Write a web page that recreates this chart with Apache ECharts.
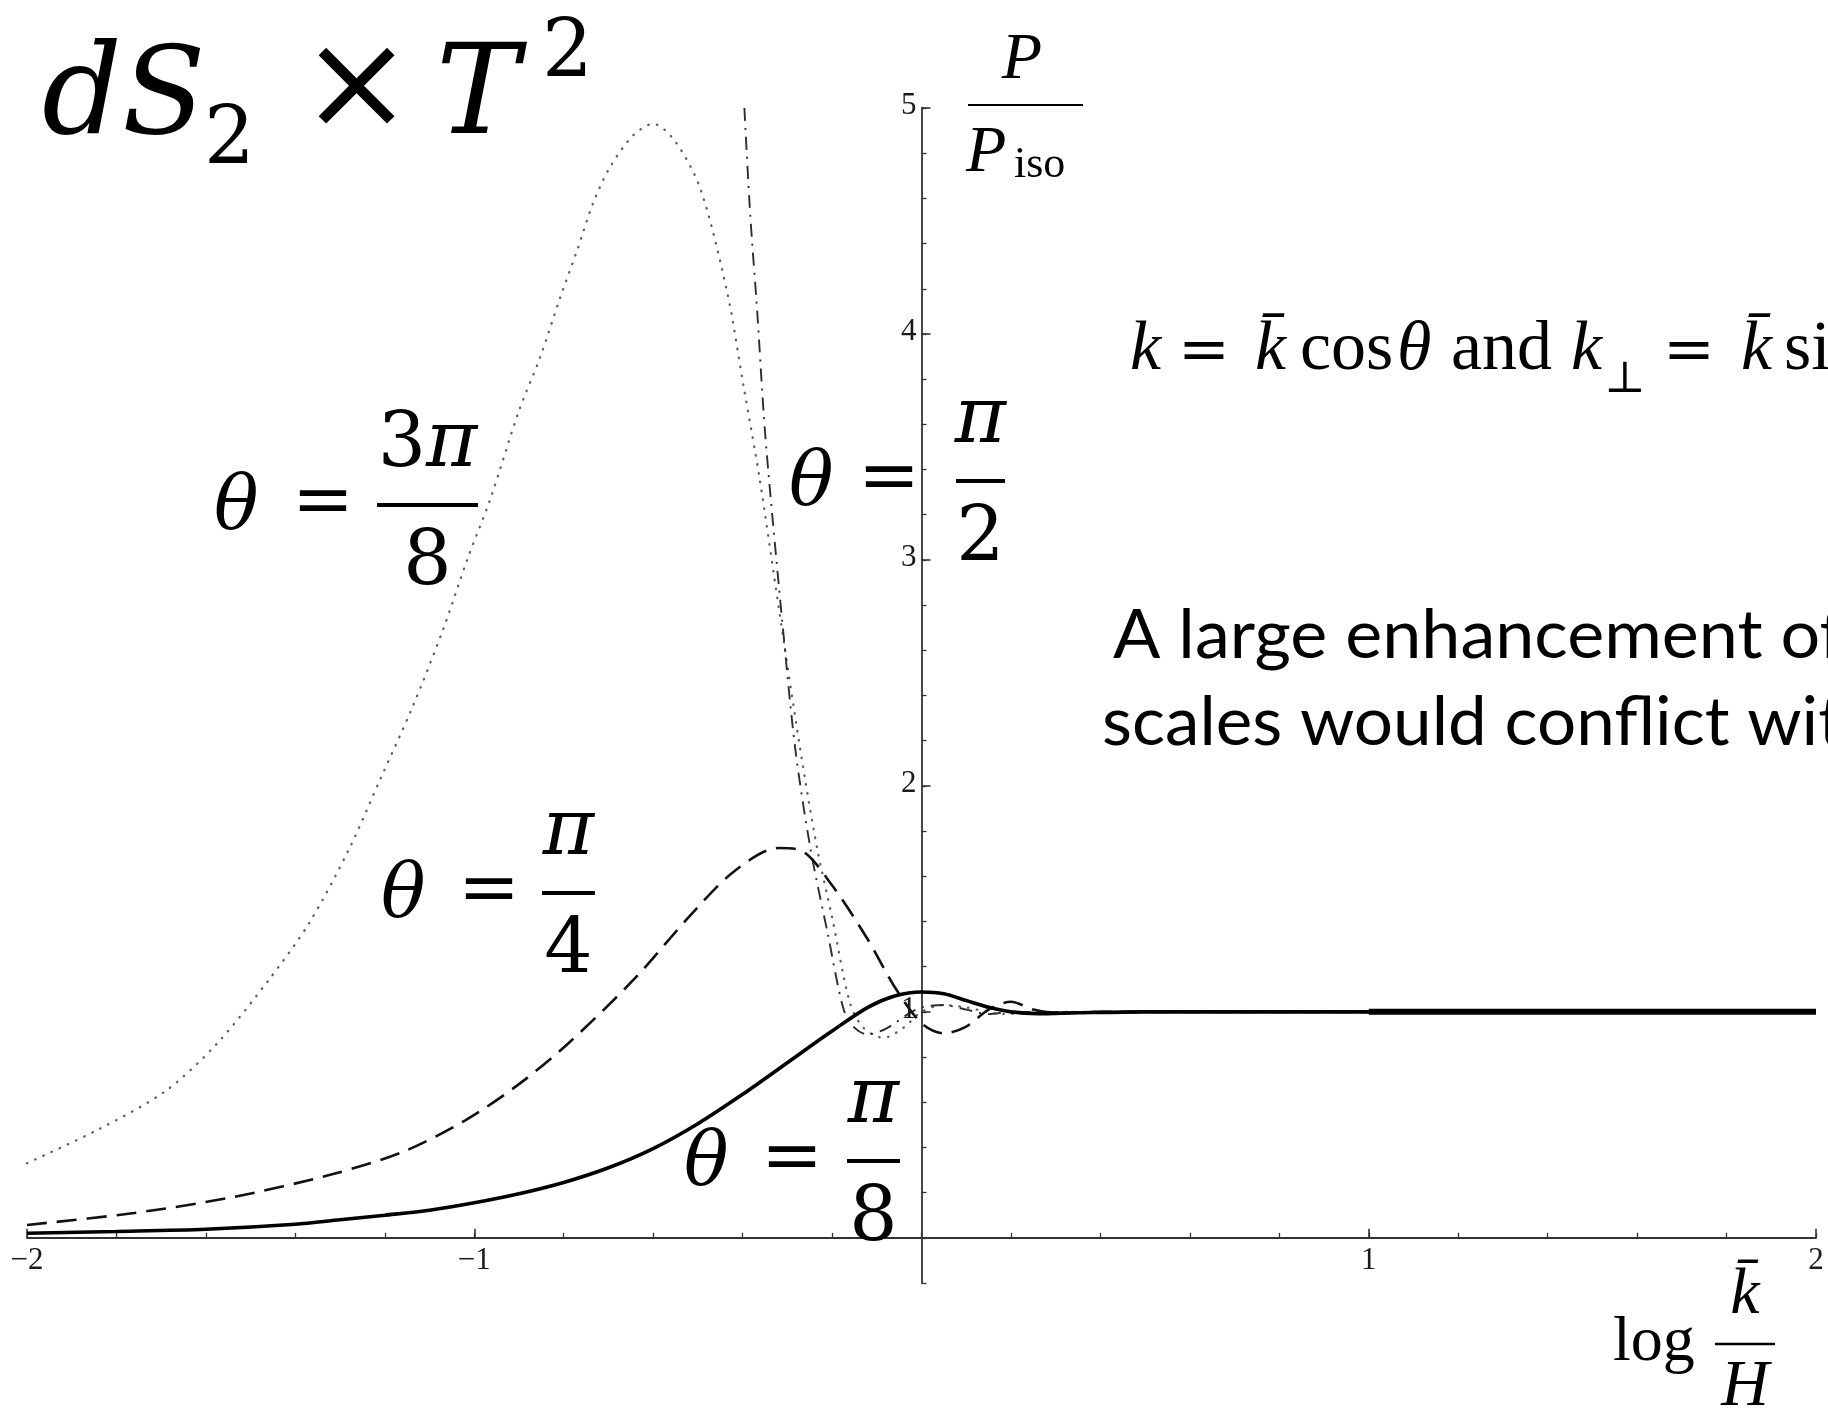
<!DOCTYPE html>
<html>
<head>
<meta charset="utf-8">
<script src="https://cdn.jsdelivr.net/npm/echarts@6/dist/echarts.min.js"></script>
<style>
  html, body { margin: 0; padding: 0; background: #ffffff; }
  #chart { width: 1828px; height: 1415px; }
</style>
</head>
<body>
<div id="chart"></div>
<script>
// Ratio of the anisotropic power spectrum to the isotropic one, P / P_iso,
// plotted against log(k̄/H) for four orientations θ on dS2 × T2.

const xTickLabels = [-2, -1, 1, 2];
const yTickLabels = [1, 2, 3, 4, 5];

// θ = π/8 (thick solid)
const thetaPi8 = [
  [-2.0, 0.020], [-1.8, 0.028], [-1.6, 0.038], [-1.4, 0.060], [-1.3, 0.080],
  [-1.2, 0.100], [-1.1, 0.122], [-1.0, 0.155], [-0.9, 0.195], [-0.8, 0.245],
  [-0.7, 0.310], [-0.6, 0.395], [-0.5, 0.505], [-0.4, 0.635], [-0.3, 0.775],
  [-0.2, 0.915], [-0.12, 1.020], [-0.06, 1.070], [0.0, 1.088], [0.05, 1.080],
  [0.10, 1.050], [0.15, 1.020], [0.20, 1.000], [0.26, 0.992], [0.35, 0.996],
  [0.5, 1.0], [1.0, 1.0], [1.5, 1.0], [2.0, 1.0]
];

// θ = π/4 (dashed)
const thetaPi4 = [
  [-2.0, 0.057], [-1.76, 0.110], [-1.54, 0.180], [-1.32, 0.280], [-1.16, 0.380],
  [-1.02, 0.520], [-0.90, 0.680], [-0.79, 0.860], [-0.64, 1.150], [-0.52, 1.420],
  [-0.42, 1.620], [-0.32, 1.725], [-0.27, 1.715], [-0.20, 1.560], [-0.12, 1.320],
  [-0.06, 1.110], [0.0, 0.950], [0.05, 0.905], [0.10, 0.935], [0.15, 1.010],
  [0.20, 1.045], [0.25, 1.010], [0.30, 0.995], [0.4, 1.0], [1.0, 1.0], [2.0, 1.0]
];

// θ = 3π/8 (dotted)
const theta3Pi8 = [
  [-2.0, 0.330], [-1.84, 0.480], [-1.69, 0.650], [-1.575, 0.860], [-1.46, 1.140],
  [-1.37, 1.390], [-1.28, 1.720], [-1.21, 2.030], [-1.14, 2.340], [-1.07, 2.690],
  [-1.016, 3.000], [-0.964, 3.270], [-0.90, 3.660], [-0.852, 3.900], [-0.808, 4.160],
  [-0.77, 4.370], [-0.734, 4.580], [-0.696, 4.740], [-0.644, 4.880], [-0.60, 4.930],
  [-0.55, 4.850], [-0.494, 4.640], [-0.434, 4.180], [-0.398, 3.770], [-0.362, 3.360],
  [-0.32, 2.800], [-0.271, 2.160], [-0.233, 1.720], [-0.20, 1.420], [-0.16, 1.040],
  [-0.13, 0.930], [-0.085, 0.885], [-0.04, 0.930], [0.0, 1.000], [0.05, 1.030],
  [0.10, 1.020], [0.18, 0.990], [0.3, 1.0], [1.0, 1.0], [2.0, 1.0]
];

// θ = π/2 (dash-dot)
const thetaPi2 = [
  [-0.396, 5.000], [-0.383, 4.530], [-0.367, 4.090], [-0.353, 3.650], [-0.342, 3.380],
  [-0.31, 2.700], [-0.282, 2.160], [-0.248, 1.720], [-0.21, 1.350], [-0.174, 1.010],
  [-0.15, 0.930], [-0.121, 0.900], [-0.08, 0.925], [-0.03, 0.990], [0.0, 1.020],
  [0.05, 1.030], [0.10, 1.010], [0.15, 0.990], [0.2, 1.0], [1.0, 1.0], [2.0, 1.0]
];

const MATH = '"DejaVu Serif"';
const TIMES = '"Liberation Serif"';
const SANS = 'Lato';

const W = 1828, H = 1415;
const grid = { left: 27, right: 12, top: 108, bottom: 132 };
const xRange = [-2, 2];
const yRange = [-0.2, 5];

// The axes cross at the origin; shift each axis there.
const gridW = W - grid.left - grid.right;
const gridH = H - grid.top - grid.bottom;
const yAxisShift = -gridW * (0 - xRange[0]) / (xRange[1] - xRange[0]);
const xAxisShift = -gridH * (0 - yRange[0]) / (yRange[1] - yRange[0]);

const chart = echarts.init(document.getElementById('chart'), null, { renderer: 'canvas' });

// ---- text layout helpers -------------------------------------------------
const mctx = document.createElement('canvas').getContext('2d');
function fontOf(p) {
  return (p.italic ? 'italic ' : '') + p.size + 'px ' + (p.family || MATH);
}
function widthOf(p) {
  mctx.font = fontOf(p);
  return mctx.measureText(p.t).width;
}
// Lays out a run of glyph groups on a common baseline.
function mathRun(parts, x, baseline, align) {
  let total = 0;
  parts.forEach(p => { total += widthOf(p) + (p.gap || 0); });
  let cx = align === 'center' ? x - total / 2 : x;
  return parts.map(p => {
    const el = {
      type: 'text', z: 50,
      x: cx,
      y: baseline + (p.dy || 0) - 0.3 * p.size,
      style: {
        text: p.t, font: fontOf(p), fill: '#000',
        textAlign: 'left', textVerticalAlign: 'middle',
        align: 'left', verticalAlign: 'middle'
      }
    };
    cx += widthOf(p) + (p.gap || 0);
    return el;
  });
}
function glyph(t, x, baseline, size, italic, family, align) {
  return mathRun([{ t, size, italic, family }], x, baseline, align || 'left')[0];
}
function rule(x1, x2, y, w) {
  return { type: 'line', z: 50, shape: { x1, y1: y, x2, y2: y }, style: { stroke: '#000', lineWidth: w } };
}
// θ = num/den label, fraction bar at lineY
function thetaLabel(thetaX, eqX, barX1, barX2, lineY, num, den) {
  const cx = (barX1 + barX2) / 2;
  const els = [];
  els.push(glyph('θ', thetaX, lineY + 26, 74, true));
  els.push({
    type: 'text', z: 50, x: eqX, y: lineY,
    style: { text: '=', font: '74px ' + MATH, fill: '#000', textAlign: 'left', textVerticalAlign: 'middle', align: 'left', verticalAlign: 'middle' }
  });
  els.push(rule(barX1, barX2, lineY, 4));
  els.push(...mathRun(num, cx, lineY - 36, 'center'));
  els.push(...mathRun(den, cx, lineY + 82, 'center'));
  return els;
}

const graphics = [];

// Title: dS2 × T^2
graphics.push(glyph('d', 42, 138, 125, true));
graphics.push(glyph('S', 122, 138, 122, true));
graphics.push(glyph('2', 204, 166, 80, false));
graphics.push({
  type: 'text', z: 50, x: 300, y: 93,
  style: { text: '×', font: '135px ' + MATH, fill: '#000', textAlign: 'left', textVerticalAlign: 'middle', align: 'left', verticalAlign: 'middle' }
});
graphics.push(glyph('T', 436, 138, 125, true));
graphics.push(glyph('2', 542, 79, 80, false));

// Curve labels
graphics.push(...thetaLabel(214, 292, 377, 478, 505,
  [{ t: '3', size: 76 }, { t: 'π', size: 78, italic: true }], [{ t: '8', size: 76 }]));
graphics.push(...thetaLabel(789, 858, 956, 1005, 481,
  [{ t: 'π', size: 78, italic: true }], [{ t: '2', size: 76 }]));
graphics.push(...thetaLabel(381, 458, 542, 595, 893,
  [{ t: 'π', size: 78, italic: true }], [{ t: '4', size: 76 }]));
graphics.push(...thetaLabel(684, 761, 847, 900, 1161,
  [{ t: 'π', size: 78, italic: true }], [{ t: '8', size: 76 }]));

// Vertical axis name: P / P_iso
graphics.push(glyph('P', 1022, 80, 66, true, TIMES, 'center'));
graphics.push(rule(968, 1083, 105, 2));
graphics.push(glyph('P', 966, 173, 66, true, TIMES));
graphics.push(glyph('iso', 1014, 179, 44, false, TIMES));

// Horizontal axis name: log k̄/H
graphics.push(glyph('log', 1613, 1362, 64, false, TIMES));
graphics.push(glyph('k\u0304', 1745, 1315, 66, true, TIMES, 'center'));
graphics.push(rule(1715, 1775, 1344, 2.5));
graphics.push(glyph('H', 1745, 1407, 66, true, TIMES, 'center'));

// Definition of the wave-vector components
const fs = 70;
graphics.push(glyph('k', 1130, 372, fs, true, TIMES));
graphics.push(glyph('=', 1178, 372, 62, false, MATH));
graphics.push(glyph('k\u0304', 1255, 372, fs, true, TIMES));
graphics.push(glyph('cos', 1300, 372, fs, false, TIMES));
graphics.push(glyph('θ', 1397, 372, fs, true, TIMES));
graphics.push(glyph('and', 1451, 372, fs, false, TIMES));
graphics.push(glyph('k', 1571, 372, fs, true, TIMES));
graphics.push(glyph('⊥', 1604, 394, 44, false, MATH));
graphics.push(glyph('=', 1663, 372, 62, false, MATH));
graphics.push(glyph('k\u0304', 1741, 372, fs, true, TIMES));
graphics.push(glyph('si', 1784, 372, fs, false, TIMES));

// Sentence lines (narrowed to the slide's font width)
function sentence(t, x, baseline, targetW) {
  const p = { t, size: 68, family: SANS };
  const el = glyph(t, 0, 0, 68, false, SANS);
  el.x = x; el.y = baseline - 0.3 * 68;
  el.scaleX = targetW / widthOf(p);
  return el;
}
graphics.push(sentence('A large enhancement of', 1113, 656, 731));
graphics.push(sentence('scales would conflict wit', 1102, 743, 741));

// ---- chart -----------------------------------------------------------------
const axisColor = '#333333';
const tickFont = '31px ' + TIMES;
const tickColor = '#1a1a1a';
const fmtTick = v => (v < 0 ? '\u2212' + Math.abs(v) : String(v));

function curve(name, data, lineStyle, z) {
  return {
    name, type: 'line', xAxisIndex: 0, yAxisIndex: 0, data, z,
    showSymbol: false, symbol: 'none', smooth: 0.3,
    clip: true, silent: true, lineStyle
  };
}

const option = {
  animation: false,
  backgroundColor: '#ffffff',
  grid: Object.assign({ containLabel: false, outerBoundsMode: 'none' }, grid),
  xAxis: [
    {
      type: 'value', min: xRange[0], max: xRange[1], position: 'bottom', offset: xAxisShift,
      axisLine: { onZero: false, lineStyle: { color: axisColor, width: 1.8 } },
      axisTick: { show: true, inside: true, length: 9, customValues: xTickLabels, lineStyle: { color: axisColor, width: 1.6 } },
      axisLabel: { show: false },
      splitLine: { show: false }
    },
    {
      type: 'value', min: xRange[0], max: xRange[1], interval: 0.2, position: 'bottom', offset: xAxisShift,
      axisLine: { onZero: false, show: false },
      axisTick: { show: true, inside: true, length: 5, lineStyle: { color: axisColor, width: 1.3 } },
      axisLabel: { show: false },
      splitLine: { show: false }
    }
  ],
  yAxis: [
    {
      type: 'value', min: yRange[0], max: yRange[1], position: 'left', offset: yAxisShift,
      axisLine: { onZero: false, lineStyle: { color: axisColor, width: 1.8 } },
      axisTick: { show: true, inside: true, length: 9, customValues: yTickLabels, lineStyle: { color: axisColor, width: 1.6 } },
      axisLabel: { show: false },
      splitLine: { show: false }
    },
    {
      type: 'value', min: yRange[0], max: yRange[1], interval: 0.2, position: 'left', offset: yAxisShift,
      axisLine: { onZero: false, show: false },
      axisTick: { show: true, inside: true, length: 5, lineStyle: { color: axisColor, width: 1.3 } },
      axisLabel: { show: false },
      splitLine: { show: false }
    }
  ],
  series: [
    curve('θ = 3π/8', theta3Pi8, { color: '#5e5e5e', width: 2.3, type: [0.5, 8.5], cap: 'round' }, 3),
    curve('θ = π/2', thetaPi2, { color: '#2e2e2e', width: 1.9, type: [13, 7, 2, 7] }, 4),
    curve('θ = π/4', thetaPi4, { color: '#111111', width: 2.6, type: [20, 10] }, 5),
    curve('θ = π/8', thetaPi8, { color: '#000000', width: 3.6 }, 6),
    curve('θ = π/8 ', thetaPi8.filter(p => p[0] >= 1), { color: '#000000', width: 6 }, 7)
  ],
  graphic: { elements: graphics }
};

chart.setOption(option);

// Tick labels, placed through the axes' own scales at the crossing point.
const finder = { xAxisIndex: 0, yAxisIndex: 0 };
const tickLabels = [];
xTickLabels.forEach(v => {
  const [px, py] = chart.convertToPixel(finder, [v, 0]);
  tickLabels.push({
    type: 'text', z: 40, x: px, y: py + 8,
    style: { text: fmtTick(v), font: tickFont, fill: tickColor, textAlign: 'center', textVerticalAlign: 'top', align: 'center', verticalAlign: 'top' }
  });
});
yTickLabels.forEach(v => {
  const [px, py] = chart.convertToPixel(finder, [0, v]);
  tickLabels.push({
    type: 'text', z: 40, x: px - 5, y: py - 2,
    style: { text: fmtTick(v), font: tickFont, fill: tickColor, textAlign: 'right', textVerticalAlign: 'middle', align: 'right', verticalAlign: 'middle' }
  });
});
chart.setOption({ graphic: { elements: graphics.concat(tickLabels) } });
</script>
</body>
</html>
